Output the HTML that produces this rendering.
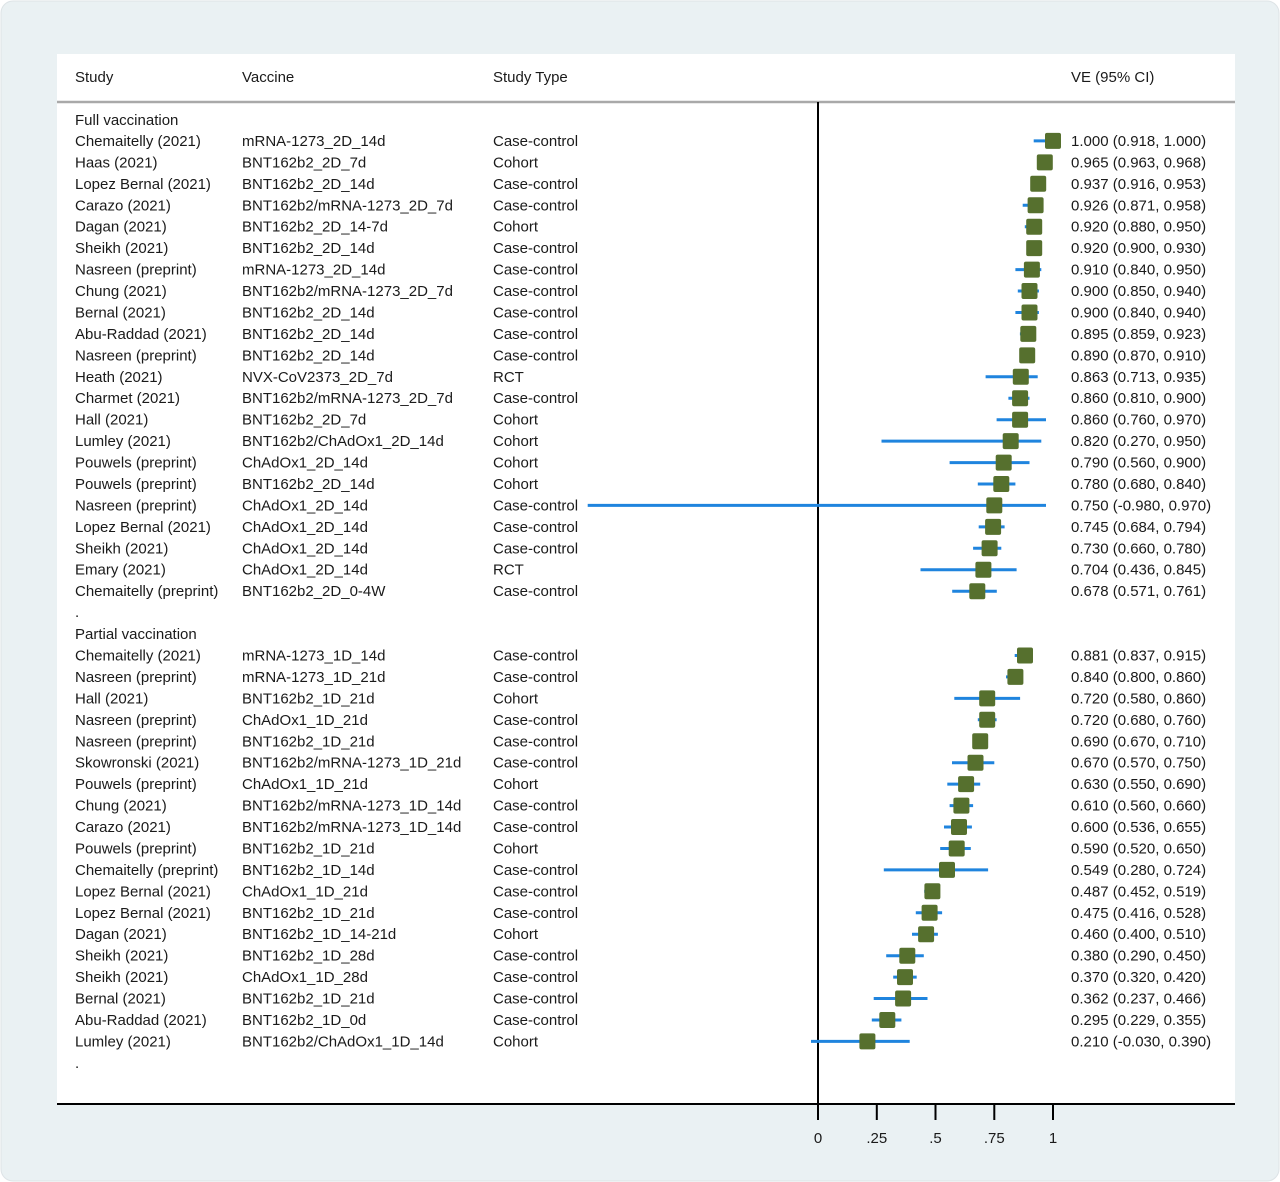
<!DOCTYPE html>
<html><head><meta charset="utf-8"><style>
body{margin:0;background:#fff}
svg{display:block}
text{font-family:"Liberation Sans",Arial,sans-serif;font-size:15px;fill:#1a1a1a}
.ci{stroke:#1f84de;stroke-width:3}
.bx{fill:#56702e}
</style></head><body>
<svg width="1280" height="1182" viewBox="0 0 1280 1182" xmlns="http://www.w3.org/2000/svg">
<rect x="1" y="1" width="1278" height="1180" rx="12" fill="#eaf1f3" stroke="#dde3e6"/>
<rect x="57" y="54" width="1178" height="1050" fill="#fff"/>
<line x1="57" y1="102" x2="1235" y2="102" stroke="#a9a9a9" stroke-width="2.5"/>
<text x="75" y="82">Study</text><text x="242" y="82">Vaccine</text><text x="493" y="82">Study Type</text><text x="1071" y="82">VE (95% CI)</text>
<line x1="818" y1="102" x2="818" y2="1104" stroke="#000" stroke-width="2"/>
<line x1="57" y1="1104" x2="1235" y2="1104" stroke="#000" stroke-width="2"/>
<g stroke="#000" stroke-width="2"><line x1="818" y1="1104" x2="818" y2="1120"/><line x1="876.8" y1="1104" x2="876.8" y2="1120"/><line x1="935.5" y1="1104" x2="935.5" y2="1120"/><line x1="994.3" y1="1104" x2="994.3" y2="1120"/><line x1="1053" y1="1104" x2="1053" y2="1120"/></g>
<g text-anchor="middle"><text x="818" y="1143">0</text><text x="876.8" y="1143">.25</text><text x="935.5" y="1143">.5</text><text x="994.3" y="1143">.75</text><text x="1053" y="1143">1</text></g>

<text x="75" y="125">Full vaccination</text>
<g transform="translate(0,140.9)"><text x="75" y="5">Chemaitelly (2021)</text><text x="242" y="5">mRNA-1273_2D_14d</text><text x="493" y="5">Case-control</text><text x="1071" y="5">1.000 (0.918, 1.000)</text><line class="ci" x1="1033.7" x2="1053"/><rect class="bx" rx="2" x="1045" y="-8" width="16" height="16"/></g>
<g transform="translate(0,162.4)"><text x="75" y="5">Haas (2021)</text><text x="242" y="5">BNT162b2_2D_7d</text><text x="493" y="5">Cohort</text><text x="1071" y="5">0.965 (0.963, 0.968)</text><line class="ci" x1="1044.3" x2="1045.5"/><rect class="bx" rx="2" x="1036.8" y="-8" width="16" height="16"/></g>
<g transform="translate(0,183.8)"><text x="75" y="5">Lopez Bernal (2021)</text><text x="242" y="5">BNT162b2_2D_14d</text><text x="493" y="5">Case-control</text><text x="1071" y="5">0.937 (0.916, 0.953)</text><line class="ci" x1="1033.3" x2="1042"/><rect class="bx" rx="2" x="1030.2" y="-8" width="16" height="16"/></g>
<g transform="translate(0,205.3)"><text x="75" y="5">Carazo (2021)</text><text x="242" y="5">BNT162b2/mRNA-1273_2D_7d</text><text x="493" y="5">Case-control</text><text x="1071" y="5">0.926 (0.871, 0.958)</text><line class="ci" x1="1022.7" x2="1043.1"/><rect class="bx" rx="2" x="1027.6" y="-8" width="16" height="16"/></g>
<g transform="translate(0,226.7)"><text x="75" y="5">Dagan (2021)</text><text x="242" y="5">BNT162b2_2D_14-7d</text><text x="493" y="5">Cohort</text><text x="1071" y="5">0.920 (0.880, 0.950)</text><line class="ci" x1="1024.8" x2="1041.3"/><rect class="bx" rx="2" x="1026.2" y="-8" width="16" height="16"/></g>
<g transform="translate(0,248.1)"><text x="75" y="5">Sheikh (2021)</text><text x="242" y="5">BNT162b2_2D_14d</text><text x="493" y="5">Case-control</text><text x="1071" y="5">0.920 (0.900, 0.930)</text><line class="ci" x1="1029.5" x2="1036.6"/><rect class="bx" rx="2" x="1026.2" y="-8" width="16" height="16"/></g>
<g transform="translate(0,269.6)"><text x="75" y="5">Nasreen (preprint)</text><text x="242" y="5">mRNA-1273_2D_14d</text><text x="493" y="5">Case-control</text><text x="1071" y="5">0.910 (0.840, 0.950)</text><line class="ci" x1="1015.4" x2="1041.3"/><rect class="bx" rx="2" x="1023.9" y="-8" width="16" height="16"/></g>
<g transform="translate(0,291)"><text x="75" y="5">Chung (2021)</text><text x="242" y="5">BNT162b2/mRNA-1273_2D_7d</text><text x="493" y="5">Case-control</text><text x="1071" y="5">0.900 (0.850, 0.940)</text><line class="ci" x1="1017.8" x2="1038.9"/><rect class="bx" rx="2" x="1021.5" y="-8" width="16" height="16"/></g>
<g transform="translate(0,312.5)"><text x="75" y="5">Bernal (2021)</text><text x="242" y="5">BNT162b2_2D_14d</text><text x="493" y="5">Case-control</text><text x="1071" y="5">0.900 (0.840, 0.940)</text><line class="ci" x1="1015.4" x2="1038.9"/><rect class="bx" rx="2" x="1021.5" y="-8" width="16" height="16"/></g>
<g transform="translate(0,333.9)"><text x="75" y="5">Abu-Raddad (2021)</text><text x="242" y="5">BNT162b2_2D_14d</text><text x="493" y="5">Case-control</text><text x="1071" y="5">0.895 (0.859, 0.923)</text><line class="ci" x1="1019.9" x2="1034.9"/><rect class="bx" rx="2" x="1020.3" y="-8" width="16" height="16"/></g>
<g transform="translate(0,355.4)"><text x="75" y="5">Nasreen (preprint)</text><text x="242" y="5">BNT162b2_2D_14d</text><text x="493" y="5">Case-control</text><text x="1071" y="5">0.890 (0.870, 0.910)</text><line class="ci" x1="1022.5" x2="1031.9"/><rect class="bx" rx="2" x="1019.2" y="-8" width="16" height="16"/></g>
<g transform="translate(0,376.8)"><text x="75" y="5">Heath (2021)</text><text x="242" y="5">NVX-CoV2373_2D_7d</text><text x="493" y="5">RCT</text><text x="1071" y="5">0.863 (0.713, 0.935)</text><line class="ci" x1="985.6" x2="1037.7"/><rect class="bx" rx="2" x="1012.8" y="-8" width="16" height="16"/></g>
<g transform="translate(0,398.2)"><text x="75" y="5">Charmet (2021)</text><text x="242" y="5">BNT162b2/mRNA-1273_2D_7d</text><text x="493" y="5">Case-control</text><text x="1071" y="5">0.860 (0.810, 0.900)</text><line class="ci" x1="1008.4" x2="1029.5"/><rect class="bx" rx="2" x="1012.1" y="-8" width="16" height="16"/></g>
<g transform="translate(0,419.7)"><text x="75" y="5">Hall (2021)</text><text x="242" y="5">BNT162b2_2D_7d</text><text x="493" y="5">Cohort</text><text x="1071" y="5">0.860 (0.760, 0.970)</text><line class="ci" x1="996.6" x2="1046"/><rect class="bx" rx="2" x="1012.1" y="-8" width="16" height="16"/></g>
<g transform="translate(0,441.1)"><text x="75" y="5">Lumley (2021)</text><text x="242" y="5">BNT162b2/ChAdOx1_2D_14d</text><text x="493" y="5">Cohort</text><text x="1071" y="5">0.820 (0.270, 0.950)</text><line class="ci" x1="881.5" x2="1041.3"/><rect class="bx" rx="2" x="1002.7" y="-8" width="16" height="16"/></g>
<g transform="translate(0,462.6)"><text x="75" y="5">Pouwels (preprint)</text><text x="242" y="5">ChAdOx1_2D_14d</text><text x="493" y="5">Cohort</text><text x="1071" y="5">0.790 (0.560, 0.900)</text><line class="ci" x1="949.6" x2="1029.5"/><rect class="bx" rx="2" x="995.7" y="-8" width="16" height="16"/></g>
<g transform="translate(0,484)"><text x="75" y="5">Pouwels (preprint)</text><text x="242" y="5">BNT162b2_2D_14d</text><text x="493" y="5">Cohort</text><text x="1071" y="5">0.780 (0.680, 0.840)</text><line class="ci" x1="977.8" x2="1015.4"/><rect class="bx" rx="2" x="993.3" y="-8" width="16" height="16"/></g>
<g transform="translate(0,505.4)"><text x="75" y="5">Nasreen (preprint)</text><text x="242" y="5">ChAdOx1_2D_14d</text><text x="493" y="5">Case-control</text><text x="1071" y="5">0.750 (-0.980, 0.970)</text><line class="ci" x1="587.7" x2="1046"/><rect class="bx" rx="2" x="986.3" y="-8" width="16" height="16"/></g>
<g transform="translate(0,526.9)"><text x="75" y="5">Lopez Bernal (2021)</text><text x="242" y="5">ChAdOx1_2D_14d</text><text x="493" y="5">Case-control</text><text x="1071" y="5">0.745 (0.684, 0.794)</text><line class="ci" x1="978.7" x2="1004.6"/><rect class="bx" rx="2" x="985.1" y="-8" width="16" height="16"/></g>
<g transform="translate(0,548.3)"><text x="75" y="5">Sheikh (2021)</text><text x="242" y="5">ChAdOx1_2D_14d</text><text x="493" y="5">Case-control</text><text x="1071" y="5">0.730 (0.660, 0.780)</text><line class="ci" x1="973.1" x2="1001.3"/><rect class="bx" rx="2" x="981.6" y="-8" width="16" height="16"/></g>
<g transform="translate(0,569.7)"><text x="75" y="5">Emary (2021)</text><text x="242" y="5">ChAdOx1_2D_14d</text><text x="493" y="5">RCT</text><text x="1071" y="5">0.704 (0.436, 0.845)</text><line class="ci" x1="920.5" x2="1016.6"/><rect class="bx" rx="2" x="975.4" y="-8" width="16" height="16"/></g>
<g transform="translate(0,591.2)"><text x="75" y="5">Chemaitelly (preprint)</text><text x="242" y="5">BNT162b2_2D_0-4W</text><text x="493" y="5">Case-control</text><text x="1071" y="5">0.678 (0.571, 0.761)</text><line class="ci" x1="952.2" x2="996.8"/><rect class="bx" rx="2" x="969.3" y="-8" width="16" height="16"/></g>
<text x="75" y="617">.</text>
<text x="75" y="639">Partial vaccination</text>
<g transform="translate(0,655.5)"><text x="75" y="5">Chemaitelly (2021)</text><text x="242" y="5">mRNA-1273_1D_14d</text><text x="493" y="5">Case-control</text><text x="1071" y="5">0.881 (0.837, 0.915)</text><line class="ci" x1="1014.7" x2="1033"/><rect class="bx" rx="2" x="1017" y="-8" width="16" height="16"/></g>
<g transform="translate(0,676.9)"><text x="75" y="5">Nasreen (preprint)</text><text x="242" y="5">mRNA-1273_1D_21d</text><text x="493" y="5">Case-control</text><text x="1071" y="5">0.840 (0.800, 0.860)</text><line class="ci" x1="1006" x2="1020.1"/><rect class="bx" rx="2" x="1007.4" y="-8" width="16" height="16"/></g>
<g transform="translate(0,698.4)"><text x="75" y="5">Hall (2021)</text><text x="242" y="5">BNT162b2_1D_21d</text><text x="493" y="5">Cohort</text><text x="1071" y="5">0.720 (0.580, 0.860)</text><line class="ci" x1="954.3" x2="1020.1"/><rect class="bx" rx="2" x="979.2" y="-8" width="16" height="16"/></g>
<g transform="translate(0,719.8)"><text x="75" y="5">Nasreen (preprint)</text><text x="242" y="5">ChAdOx1_1D_21d</text><text x="493" y="5">Case-control</text><text x="1071" y="5">0.720 (0.680, 0.760)</text><line class="ci" x1="977.8" x2="996.6"/><rect class="bx" rx="2" x="979.2" y="-8" width="16" height="16"/></g>
<g transform="translate(0,741.3)"><text x="75" y="5">Nasreen (preprint)</text><text x="242" y="5">BNT162b2_1D_21d</text><text x="493" y="5">Case-control</text><text x="1071" y="5">0.690 (0.670, 0.710)</text><line class="ci" x1="975.5" x2="984.9"/><rect class="bx" rx="2" x="972.2" y="-8" width="16" height="16"/></g>
<g transform="translate(0,762.7)"><text x="75" y="5">Skowronski (2021)</text><text x="242" y="5">BNT162b2/mRNA-1273_1D_21d</text><text x="493" y="5">Case-control</text><text x="1071" y="5">0.670 (0.570, 0.750)</text><line class="ci" x1="952" x2="994.3"/><rect class="bx" rx="2" x="967.5" y="-8" width="16" height="16"/></g>
<g transform="translate(0,784.1)"><text x="75" y="5">Pouwels (preprint)</text><text x="242" y="5">ChAdOx1_1D_21d</text><text x="493" y="5">Cohort</text><text x="1071" y="5">0.630 (0.550, 0.690)</text><line class="ci" x1="947.3" x2="980.2"/><rect class="bx" rx="2" x="958.1" y="-8" width="16" height="16"/></g>
<g transform="translate(0,805.6)"><text x="75" y="5">Chung (2021)</text><text x="242" y="5">BNT162b2/mRNA-1273_1D_14d</text><text x="493" y="5">Case-control</text><text x="1071" y="5">0.610 (0.560, 0.660)</text><line class="ci" x1="949.6" x2="973.1"/><rect class="bx" rx="2" x="953.4" y="-8" width="16" height="16"/></g>
<g transform="translate(0,827)"><text x="75" y="5">Carazo (2021)</text><text x="242" y="5">BNT162b2/mRNA-1273_1D_14d</text><text x="493" y="5">Case-control</text><text x="1071" y="5">0.600 (0.536, 0.655)</text><line class="ci" x1="944" x2="971.9"/><rect class="bx" rx="2" x="951" y="-8" width="16" height="16"/></g>
<g transform="translate(0,848.5)"><text x="75" y="5">Pouwels (preprint)</text><text x="242" y="5">BNT162b2_1D_21d</text><text x="493" y="5">Cohort</text><text x="1071" y="5">0.590 (0.520, 0.650)</text><line class="ci" x1="940.2" x2="970.8"/><rect class="bx" rx="2" x="948.7" y="-8" width="16" height="16"/></g>
<g transform="translate(0,869.9)"><text x="75" y="5">Chemaitelly (preprint)</text><text x="242" y="5">BNT162b2_1D_14d</text><text x="493" y="5">Case-control</text><text x="1071" y="5">0.549 (0.280, 0.724)</text><line class="ci" x1="883.8" x2="988.1"/><rect class="bx" rx="2" x="939" y="-8" width="16" height="16"/></g>
<g transform="translate(0,891.3)"><text x="75" y="5">Lopez Bernal (2021)</text><text x="242" y="5">ChAdOx1_1D_21d</text><text x="493" y="5">Case-control</text><text x="1071" y="5">0.487 (0.452, 0.519)</text><line class="ci" x1="924.2" x2="940"/><rect class="bx" rx="2" x="924.4" y="-8" width="16" height="16"/></g>
<g transform="translate(0,912.8)"><text x="75" y="5">Lopez Bernal (2021)</text><text x="242" y="5">BNT162b2_1D_21d</text><text x="493" y="5">Case-control</text><text x="1071" y="5">0.475 (0.416, 0.528)</text><line class="ci" x1="915.8" x2="942.1"/><rect class="bx" rx="2" x="921.6" y="-8" width="16" height="16"/></g>
<g transform="translate(0,934.2)"><text x="75" y="5">Dagan (2021)</text><text x="242" y="5">BNT162b2_1D_14-21d</text><text x="493" y="5">Cohort</text><text x="1071" y="5">0.460 (0.400, 0.510)</text><line class="ci" x1="912" x2="937.9"/><rect class="bx" rx="2" x="918.1" y="-8" width="16" height="16"/></g>
<g transform="translate(0,955.7)"><text x="75" y="5">Sheikh (2021)</text><text x="242" y="5">BNT162b2_1D_28d</text><text x="493" y="5">Case-control</text><text x="1071" y="5">0.380 (0.290, 0.450)</text><line class="ci" x1="886.2" x2="923.8"/><rect class="bx" rx="2" x="899.3" y="-8" width="16" height="16"/></g>
<g transform="translate(0,977.1)"><text x="75" y="5">Sheikh (2021)</text><text x="242" y="5">ChAdOx1_1D_28d</text><text x="493" y="5">Case-control</text><text x="1071" y="5">0.370 (0.320, 0.420)</text><line class="ci" x1="893.2" x2="916.7"/><rect class="bx" rx="2" x="897" y="-8" width="16" height="16"/></g>
<g transform="translate(0,998.5)"><text x="75" y="5">Bernal (2021)</text><text x="242" y="5">BNT162b2_1D_21d</text><text x="493" y="5">Case-control</text><text x="1071" y="5">0.362 (0.237, 0.466)</text><line class="ci" x1="873.7" x2="927.5"/><rect class="bx" rx="2" x="895.1" y="-8" width="16" height="16"/></g>
<g transform="translate(0,1020)"><text x="75" y="5">Abu-Raddad (2021)</text><text x="242" y="5">BNT162b2_1D_0d</text><text x="493" y="5">Case-control</text><text x="1071" y="5">0.295 (0.229, 0.355)</text><line class="ci" x1="871.8" x2="901.4"/><rect class="bx" rx="2" x="879.3" y="-8" width="16" height="16"/></g>
<g transform="translate(0,1041.4)"><text x="75" y="5">Lumley (2021)</text><text x="242" y="5">BNT162b2/ChAdOx1_1D_14d</text><text x="493" y="5">Cohort</text><text x="1071" y="5">0.210 (-0.030, 0.390)</text><line class="ci" x1="811" x2="909.7"/><rect class="bx" rx="2" x="859.4" y="-8" width="16" height="16"/></g>
<text x="75" y="1068">.</text>
</svg>
</body></html>
